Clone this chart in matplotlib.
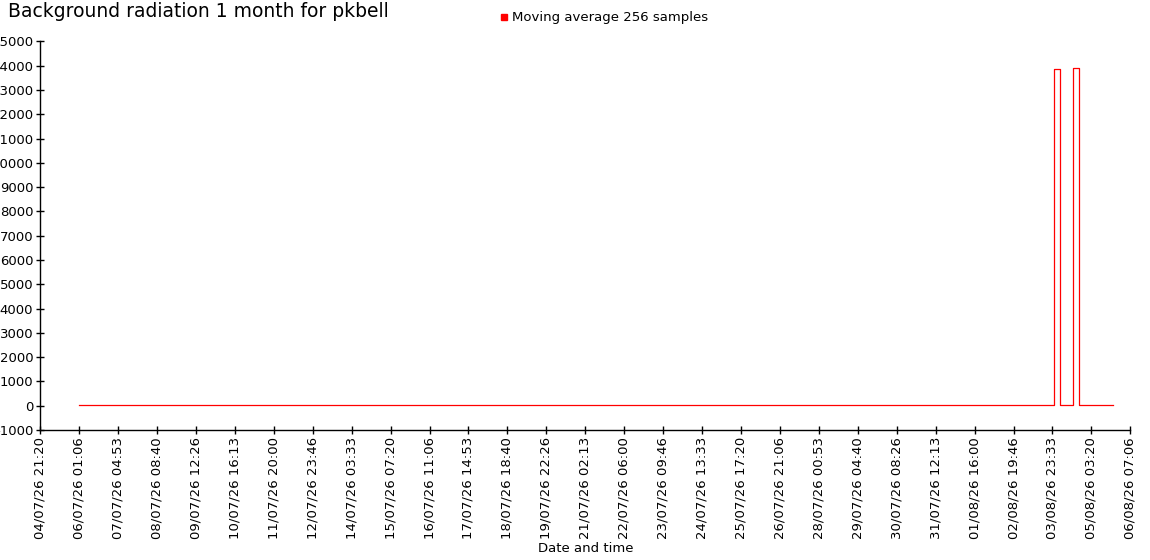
import matplotlib
matplotlib.use('Agg')
import matplotlib.pyplot as plt
import matplotlib.dates as mdates
from matplotlib.lines import Line2D
import pandas as pd

# moving average series (step changes)
times = ["2026-07-06 01:07", "2026-07-11 11:26", "2026-07-28 12:20",
         "2026-07-30 20:14", "2026-08-02 18:38", "2026-08-04 00:56",
         "2026-08-04 05:08", "2026-08-04 14:20", "2026-08-04 18:08",
         "2026-08-05 18:56"]
values = [18, 14, 18, 14, 18, 13850, 16, 13900, 15, 15]

tick_start = "2026-07-04 21:20:00"
tick_step_s = 100000
n_ticks = 29
y_ticks = list(range(-1000, 15001, 1000))

t = pd.to_datetime(times)
ticks = pd.to_datetime(tick_start) + pd.to_timedelta([i * tick_step_s for i in range(n_ticks)], unit="s")

plt.rcParams['font.family'] = ['DejaVu Sans']
fig = plt.figure(figsize=(11.5, 5.6), dpi=100)
ax = fig.add_axes([0.035, 0.2321, 0.9479, 0.6938])

ax.plot(t, values, color="#ff0000", linewidth=0.9, drawstyle="steps-post")

ax.set_xlim(ticks[0], ticks[-1])
ax.set_ylim(-1000, 15000)
ax.set_yticks(y_ticks)
ax.set_yticklabels([str(v) for v in y_ticks])
ax.set_xticks(ticks)
ax.set_xticklabels([d.strftime("%d/%m/%y %H:%M") for d in ticks], rotation=90)
ax.tick_params(direction="inout", length=6, width=1, labelsize=9.5, pad=2)

for s in ["top", "right"]:
    ax.spines[s].set_visible(False)
for s in ["left", "bottom"]:
    ax.spines[s].set_linewidth(1)

ax.set_xlabel("Date and time", fontsize=9.5, labelpad=2)

fig.text(0.007, 0.97, "Background radiation 1 month for pkbell", fontsize=13.5, va="baseline")

h = Line2D([], [], color="#ff0000", marker="s", linestyle="none", markersize=4.5)
fig.legend([h], ["Moving average 256 samples"], loc="center", bbox_to_anchor=(0.525, 0.968),
           frameon=False, fontsize=9.5, handlelength=0.6, handletextpad=0.3, borderpad=0)

fig.savefig("out.png", dpi=100)
